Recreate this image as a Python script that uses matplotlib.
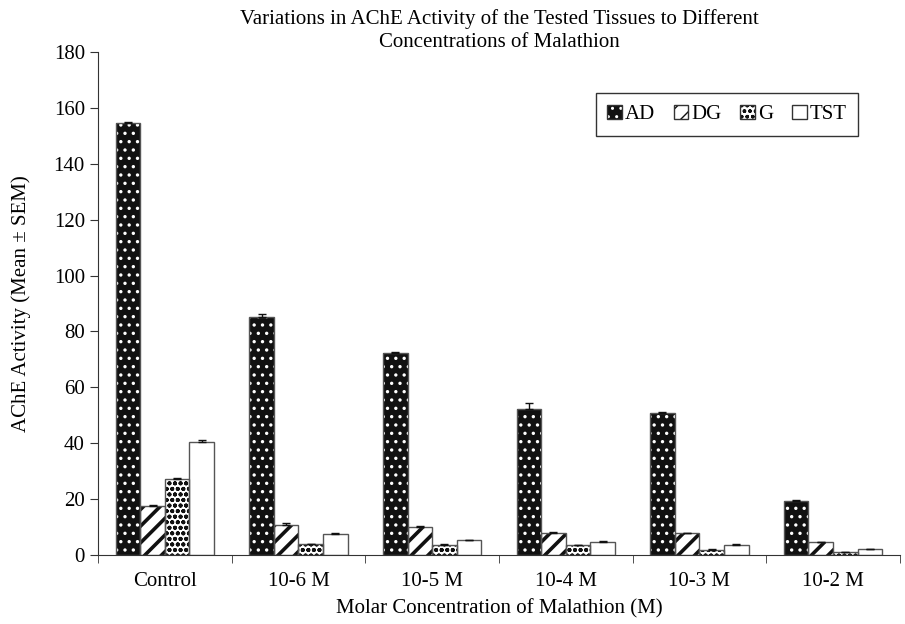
"""AChE activity of tested tissues vs malathion concentration: grouped bars with SEM."""

import matplotlib as mpl
import matplotlib.pyplot as plt
import numpy as np
from matplotlib.patches import Patch

mpl.use("Agg")
plt.rcParams.update({"font.family": "Liberation Serif", "font.size": 15})

concentrations = ["Control", "10-6 M", "10-5 M", "10-4 M", "10-3 M", "10-2 M"]
tissues = ["AD", "DG", "G", "TST"]
ad = [154.6, 85.0, 72.3, 52.3, 50.7, 19.3]
dg = [17.5, 10.7, 10.0, 8.0, 7.7, 4.5]
g = [27.3, 3.8, 3.6, 3.5, 1.8, 1.0]
tst = [40.5, 7.6, 5.2, 4.6, 3.6, 2.0]
ad_err = [0.5, 1.2, 0.5, 2.2, 0.3, 0.3]
dg_err = [0.5, 0.8, 0.3, 0.3, 0.3, 0.3]
g_err = [0.3, 0.2, 0.2, 0.2, 0.2, 0.2]
tst_err = [0.8, 0.3, 0.3, 0.3, 0.4, 0.2]

# (face, hatch, hatch colour, hatch linewidth)
STYLE = {"AD": ("#111111", "..", "white", 1.2), "DG": ("white", "//", "#111111", 2.6),
         "G": ("white", "ooo", "#111111", 1.3), "TST": ("white", "", "#111111", 1.0)}
EDGE = "#555555"


def main():
    series = [ad, dg, g, tst]
    errs = [ad_err, dg_err, g_err, tst_err]
    x = np.arange(len(concentrations))
    w = 0.184

    fig = plt.figure(figsize=(9.05, 6.24), dpi=100)
    ax = fig.add_axes([0.1083, 0.1106, 0.886, 0.806])

    handles = []
    for i, (name, vals, err) in enumerate(zip(tissues, series, errs)):
        face, hatch, hcol, hlw = STYLE[name]
        pos = x + (i - 1.5) * w
        with plt.rc_context({"hatch.linewidth": hlw}):
            ax.bar(pos, vals, w, color=face, edgecolor=hcol, hatch=hatch, linewidth=0, zorder=2)
            fill = Patch(facecolor=face, edgecolor=hcol, hatch=hatch, linewidth=0)
        ax.bar(pos, vals, w, fill=False, edgecolor=EDGE, linewidth=1.0, zorder=3)
        ax.errorbar(pos, vals, yerr=[np.zeros(len(err)), err], fmt="none", ecolor="#111111",
                    elinewidth=1.0, capsize=3, capthick=1.0, zorder=4)
        handles.append((fill, Patch(fill=False, edgecolor="#333333", linewidth=1.0)))

    ax.set_xlim(-0.5, len(concentrations) - 0.5)
    ax.set_ylim(0, 180)
    ax.set_yticks(np.arange(0, 181, 20))
    ax.set_xticks(x)
    ax.set_xticklabels(concentrations)
    ax.tick_params(axis="x", which="major", length=0, pad=12)
    ax.set_xticks(np.arange(-0.5, len(concentrations), 1.0), minor=True)
    ax.tick_params(axis="x", which="minor", length=6, direction="out", color="#333333")
    ax.tick_params(axis="y", length=6, direction="out", color="#333333")
    for side in ("top", "right"):
        ax.spines[side].set_visible(False)
    for side in ("left", "bottom"):
        ax.spines[side].set_color("#333333")

    ax.set_ylabel("AChE Activity (Mean \u00b1 SEM)", labelpad=16)
    ax.set_xlabel("Molar Concentration of Malathion (M)", labelpad=6)
    ax.set_title("Variations in AChE Activity of the Tested Tissues to Different\n"
                 "Concentrations of Malathion", fontsize=15, linespacing=1.3, pad=2)

    leg = ax.legend(handles, tissues, ncol=4, loc="upper right", bbox_to_anchor=(0.948, 0.918),
                    borderaxespad=0, handlelength=0.7, handleheight=0.7, handletextpad=0.15,
                    columnspacing=0.9, fancybox=False, edgecolor="#333333", framealpha=1,
                    borderpad=0.55)
    leg.get_frame().set_linewidth(1.0)

    fig.savefig("out.png", dpi=100, facecolor="white")
    plt.close(fig)


if __name__ == "__main__":
    main()
